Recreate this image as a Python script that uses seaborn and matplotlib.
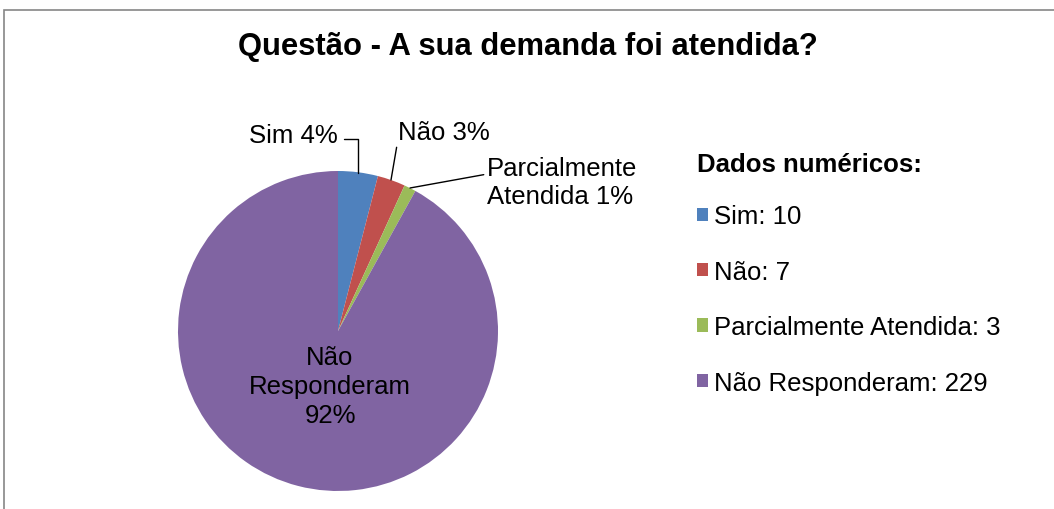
import matplotlib
matplotlib.use("Agg")
import matplotlib.pyplot as plt
import seaborn as sns
from matplotlib.patches import Patch, Rectangle

# dados do gráfico
categorias = ["Sim", "Não", "Parcialmente Atendida", "Não Responderam"]
rotulos_fatia = ["Sim", "Não", "Parcialmente\nAtendida", "Não\nResponderam"]
contagens = [10, 7, 3, 229]
cores = ["#4F81BD", "#C0504D", "#9BBB59", "#8064A2"]
titulo = "Questão - A sua demanda foi atendida?"
titulo_legenda = "Dados numéricos:"

sns.set_theme(style="white")
plt.rcParams["font.family"] = ["Liberation Sans", "DejaVu Sans"]
plt.rcParams["text.color"] = "black"

W, H = 1054, 510
fig = plt.figure(figsize=(W / 100, H / 100), dpi=100)

# moldura cinza (estilo Excel)
fig.patches.append(Rectangle((3.5 / W, -0.1), 1.2, 1.1 - 10.5 / H,
                             transform=fig.transFigure, fill=False,
                             edgecolor="#868686", linewidth=1.2))

fig.text(528 / W, 1 - 47 / H, titulo, ha="center", va="center",
         fontsize=22.3, fontweight="bold")

# eixo da pizza: centro (338, 332), raio 160 px
cx, cy, r = 338, 332, 160
ax = fig.add_axes([(cx - r) / W, (H - cy - r) / H, 2 * r / W, 2 * r / H])
total = sum(contagens)
pct = [round(100 * c / total) for c in contagens]

ax.pie(contagens, colors=cores, startangle=90, counterclock=False,
       radius=1, wedgeprops=dict(linewidth=0))
ax.set_xlim(-1, 1)
ax.set_ylim(-1, 1)
ax.set_aspect("equal")
ax.axis("off")

fs = 18.5
linha = dict(arrowstyle="-", color="black", lw=1, shrinkA=0, shrinkB=0)

def px(x, y):
    return ((x - cx) / r, (cy - y) / r)

# rótulos com linhas de chamada
ax.annotate(f"{rotulos_fatia[0]} {pct[0]}%", xy=px(358, 174), xytext=px(338, 136),
            ha="right", va="center", fontsize=fs, annotation_clip=False,
            arrowprops=dict(linha, connectionstyle="angle,angleA=0,angleB=90,rad=0",
                            relpos=(1.07, 0.35)))
ax.annotate(f"{rotulos_fatia[1]} {pct[1]}%", xy=px(391, 181), xytext=px(398, 133),
            ha="left", va="center", fontsize=fs, annotation_clip=False,
            arrowprops=dict(linha, relpos=(0, 0.2)))
parc = rotulos_fatia[2].split("\n")
ax.annotate(f"{parc[0]}\n{parc[1]} {pct[2]}%",
            xy=px(410, 189), xytext=px(487, 183),
            ha="left", va="center", fontsize=fs, annotation_clip=False,
            linespacing=1.25, arrowprops=dict(linha, relpos=(-0.02, 0.64)))
ax.text(*px(330, 387), f"{rotulos_fatia[3]}\n{pct[3]}%", ha="center", va="center",
        fontsize=fs, linespacing=1.25)

handles = [Patch(facecolor=c, edgecolor="none") for c in cores]
labels = [f"{n}: {v}" for n, v in zip(categorias, contagens)]
leg = fig.legend(handles, labels, title=titulo_legenda, loc="upper left",
                 bbox_to_anchor=(697 / W, 1 - 153 / H), frameon=False,
                 borderaxespad=0, fontsize=fs,
                 title_fontproperties=dict(weight="bold", size=fs),
                 alignment="left", handlelength=0.42, handleheight=0.42,
                 handletextpad=0.25, labelspacing=1.22, borderpad=0)
leg._legend_box.sep = 20.5

fig.savefig("out.png", dpi=100)
